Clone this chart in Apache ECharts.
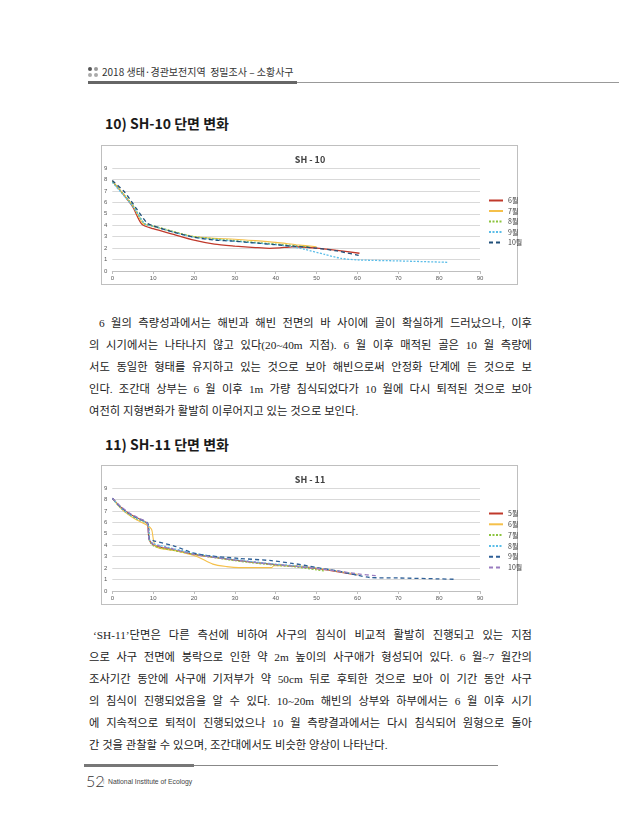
<!DOCTYPE html>
<html>
<head>
<meta charset="utf-8">
<script src="https://cdn.jsdelivr.net/npm/echarts@6/dist/echarts.min.js"></script>
<style>
html,body{margin:0;padding:0;background:#fff;}
#page{position:relative;width:619px;height:840px;overflow:hidden;background:#fff;}
.abs{position:absolute;}
.hdr{font-family:"Noto Sans CJK KR",sans-serif;font-size:10px;color:#333;white-space:nowrap;line-height:12px;}
.ttl{font-family:"Noto Sans CJK KR",sans-serif;font-weight:bold;font-size:14px;color:#1a1a1a;white-space:nowrap;line-height:18px;}
.ln{font-family:"Liberation Serif","Noto Sans CJK KR",serif;font-size:11.3px;color:#222;line-height:14px;height:14px;text-align:justify;text-align-last:justify;width:443px;left:89px;}
.ln.last{text-align-last:left;}
.box{position:absolute;box-sizing:border-box;border:1px solid #bfbfbf;background:#fff;}
.chart{position:absolute;}
</style>
</head>
<body>
<div id="page">
  <!-- header -->
  <div class="abs" style="left:88px;top:67px;width:4px;height:4px;border-radius:2px;background:#555;"></div>
  <div class="abs" style="left:94px;top:67px;width:4px;height:4px;border-radius:2px;background:#999;"></div>
  <div class="abs" style="left:88px;top:73px;width:4px;height:4px;border-radius:2px;background:#aaa;"></div>
  <div class="abs" style="left:94px;top:73px;width:4px;height:4px;border-radius:2px;background:#aaa;"></div>
  <div class="abs hdr" style="left:102px;top:66px;">2018 생태·경관보전지역&nbsp; 정밀조사 – 소황사구</div>
  <div class="abs" style="left:88px;top:81px;width:209px;height:3px;background:#666;"></div>
  <div class="abs" style="left:297px;top:82px;width:322px;height:1px;background:#999;"></div>

  <div class="abs ttl" style="left:105px;top:114px;">10) SH-10 단면 변화</div>
  <div class="box" style="left:101px;top:145px;width:417px;height:140px;"></div>
  <div id="c1" class="chart" style="left:101px;top:145px;width:440px;height:140px;"></div>

  <div class="abs ln" style="top:316px;"><span style="padding-left:10px"></span>6 월의 측량성과에서는 해빈과 해빈 전면의 바 사이에 골이 확실하게 드러났으나, 이후</div>
  <div class="abs ln" style="top:338px;">의 시기에서는 나타나지 않고 있다(20~40m 지점). 6 월 이후 매적된 골은 10 월 측량에</div>
  <div class="abs ln" style="top:360px;">서도 동일한 형태를 유지하고 있는 것으로 보아 해빈으로써 안정화 단계에 든 것으로 보</div>
  <div class="abs ln" style="top:382px;">인다. 조간대 상부는 6 월 이후 1m 가량 침식되었다가 10 월에 다시 퇴적된 것으로 보아</div>
  <div class="abs ln last" style="top:404px;">여전히 지형변화가 활발히 이루어지고 있는 것으로 보인다.</div>

  <div class="abs ttl" style="left:105px;top:435px;">11) SH-11 단면 변화</div>
  <div class="box" style="left:101px;top:465px;width:417px;height:140px;"></div>
  <div id="c2" class="chart" style="left:101px;top:465px;width:440px;height:140px;"></div>

  <div class="abs ln" style="top:628px;"><span style="padding-left:4px"></span>‘SH-11’단면은 다른 측선에 비하여 사구의 침식이 비교적 활발히 진행되고 있는 지점</div>
  <div class="abs ln" style="top:650px;">으로 사구 전면에 붕락으로 인한 약 2m 높이의 사구애가 형성되어 있다. 6 월~7 월간의</div>
  <div class="abs ln" style="top:672px;">조사기간 동안에 사구애 기저부가 약 50cm 뒤로 후퇴한 것으로 보아 이 기간 동안 사구</div>
  <div class="abs ln" style="top:694px;">의 침식이 진행되었음을 알 수 있다. 10~20m 해빈의 상부와 하부에서는 6 월 이후 시기</div>
  <div class="abs ln" style="top:716px;">에 지속적으로 퇴적이 진행되었으나 10 월 측량결과에서는 다시 침식되어 원형으로 돌아</div>
  <div class="abs ln last" style="top:738px;">간 것을 관찰할 수 있으며, 조간대에서도 비슷한 양상이 나타난다.</div>

  <!-- footer -->
  <div class="abs" style="left:84px;top:764px;width:110px;height:3px;background:#777;"></div>
  <div class="abs" style="left:194px;top:765px;width:304px;height:1px;background:#888;"></div>
  <div class="abs" style="left:86px;top:771px;font-family:'Lato','Liberation Sans',sans-serif;font-weight:300;font-size:16px;color:#333;line-height:20px;">52</div>
  <div class="abs" style="left:103px;top:777px;font-family:'Liberation Sans',sans-serif;font-size:5px;color:#777;line-height:9px;">|</div>
  <div class="abs" style="left:108px;top:777px;font-family:'Liberation Sans',sans-serif;font-size:6.8px;color:#444;line-height:9px;white-space:nowrap;">National Institute of Ecology</div>
</div>
<script>
// ---- SH-10 profiles: [distance (m), elevation (m)] ----
var sh10Names = ['6월','7월','8월','9월','10월'];
var sh10_jun = [[0,7.85],[2,7.0],[5,5.6],[7.2,4.1],[10,3.7],[15,3.2],[20,2.7],[25,2.35],[30,2.18],[35,2.05],[38.5,1.98],[41,2.02],[44,2.12],[50,2.0],[55,1.8],[60.5,1.55]];
var sh10_jul = [[0,7.85],[5,5.7],[7.5,4.15],[10,3.9],[15,3.4],[20,3.0],[25,2.85],[30,2.78],[35,2.65],[40,2.5],[45,2.3],[50,2.12]];
var sh10_aug = [[0,7.8],[5,5.75],[7.8,4.15],[10,3.95],[15,3.45],[20,3.0],[30,2.65],[40,2.35],[45,2.2],[48,2.1]];
var sh10_sep = [[0,7.75],[5,5.65],[8,4.1],[10,3.9],[15,3.4],[20,2.95],[30,2.6],[40,2.3],[44,2.13],[47,1.9],[52,1.45],[56,1.1],[60,0.97],[70,0.88],[82,0.76]];
var sh10_oct = [[0,7.9],[3,6.9],[6,5.4],[8.5,4.2],[10,3.95],[15,3.4],[20,2.95],[25,2.7],[30,2.6],[35,2.45],[40,2.3],[45,2.15],[50,2.0],[55,1.75],[60.5,1.35]];

// ---- SH-11 profiles ----
var sh11Names = ['5월','6월','7월','8월','9월','10월'];
var sh11_may = [[0,8.1],[2,7.35],[4,6.8],[6,6.4],[8.5,5.9],[9,4.5],[10,4.05],[12,3.8],[15,3.6],[20,3.2],[30,2.7],[40,2.3],[45,2.15],[50,1.95],[55,1.7],[60,1.4]];
var sh11_jun = [[0,8.1],[2,7.25],[4,6.65],[6,6.2],[8.5,5.75],[9.6,5.4],[10,4.6],[10.5,3.95],[12,3.7],[15.7,3.5],[20.8,3.0],[24.6,2.35],[28,2.13],[31,2.04],[39,2.04],[39.5,2.2],[45,2.2],[50,2.0],[55,1.75],[60,1.45]];
var sh11_jul = [[0,8.1],[2,7.3],[4,6.7],[6,6.3],[8.7,5.8],[9.1,4.4],[10,3.95],[12,3.75],[15,3.55],[20,3.2],[30,2.65],[40,2.25],[45,2.1],[50,1.85],[52,1.75]];
var sh11_aug = [[0,8.1],[2,7.3],[4,6.75],[6,6.35],[8.7,5.85],[9.1,4.5],[10,4.15],[12,3.95],[15,3.7],[20,3.3],[30,2.75],[40,2.35],[45,2.2],[50,2.0],[55,1.75],[60,1.4]];
var sh11_sep = [[0,8.1],[2,7.35],[4,6.8],[6,6.4],[8.7,5.9],[9,4.6],[10,4.4],[15,3.95],[20,3.3],[23,3.1],[31,2.85],[39,2.65],[44,2.42],[47,2.25],[50,2.05],[55,1.75],[60,1.38],[63,1.18],[70,1.14],[80,1.06],[84,1.02]];
var sh11_oct = [[0,8.1],[2,7.4],[4,6.85],[6,6.45],[8.5,5.95],[9,4.5],[10,4.1],[15,3.65],[20,3.2],[30,2.7],[40,2.3],[45,2.15],[50,1.98],[55,1.75],[60,1.5],[65,1.32]];

var xTicks = {min:0, max:90, interval:10};
var yTicks = {min:0, max:9, interval:1};

function mk(name, data, color, type, width){
  return {type:'line', name:name, data:data, symbol:'none', showSymbol:false, smooth:0.25,
    lineStyle:{color:color, width:width||1.2, type:type||'solid'},
    itemStyle:{color:color}};
}
function baseOpt(title, legendTop, gap){
  return {
    animation:false,
    title:{text:title, left:204, textAlign:'center', top:4, textStyle:{fontFamily:'Noto Sans CJK KR', fontSize:9, fontWeight:'bold', color:'#404040', lineHeight:11}},
    grid:{left:10, right:61, top:23, bottom:14},
    legend:{orient:'vertical', left:387, top:legendTop, padding:0, itemWidth:14, itemHeight:8, itemGap:gap,
      itemStyle:{opacity:0, borderWidth:0},
      textStyle:{fontFamily:'Noto Sans CJK KR', fontSize:7, color:'#404040'}},
    xAxis:{type:'value', min:xTicks.min, max:xTicks.max, interval:xTicks.interval,
      axisLine:{show:true, lineStyle:{color:'#bfbfbf'}}, axisTick:{show:true, length:3, lineStyle:{color:'#bfbfbf'}},
      axisLabel:{fontSize:6, color:'#595959', margin:4, fontFamily:'Liberation Sans'}, splitLine:{show:false}},
    yAxis:{type:'value', min:yTicks.min, max:yTicks.max, interval:yTicks.interval,
      axisLine:{show:false}, axisTick:{show:false},
      axisLabel:{fontSize:6, color:'#595959', margin:5, fontFamily:'Liberation Sans'},
      splitLine:{lineStyle:{color:'#d9d9d9', width:1}}}
  };
}
var o1 = baseOpt('SH - 10', 52, 3.5);
o1.series = [
  mk(sh10Names[0], sh10_jun, '#c0392b', 'solid', 1.3),
  mk(sh10Names[1], sh10_jul, '#f5c04a', 'solid', 1.1),
  mk(sh10Names[2], sh10_aug, '#8cc43f', [2,1.5], 1.3),
  mk(sh10Names[3], sh10_sep, '#5bbde8', [2,1.5], 1.3),
  mk(sh10Names[4], sh10_oct, '#1f4e79', [4,3], 1.3)
];
var o2 = baseOpt('SH - 11', 45, 3.8);
o2.series = [
  mk(sh11Names[0], sh11_may, '#c0392b', 'solid', 1.2),
  mk(sh11Names[1], sh11_jun, '#f5c04a', 'solid', 1.1),
  mk(sh11Names[2], sh11_jul, '#8cc43f', [2,1.5], 1.3),
  mk(sh11Names[3], sh11_aug, '#5bbde8', [2,1.5], 1.3),
  mk(sh11Names[4], sh11_sep, '#2e5f96', [4,3], 1.3),
  mk(sh11Names[5], sh11_oct, '#9a7cc0', [4,3], 1.3)
];
echarts.init(document.getElementById('c1'), null, {renderer:'canvas'}).setOption(o1);
echarts.init(document.getElementById('c2'), null, {renderer:'canvas'}).setOption(o2);
</script>
</body>
</html>
